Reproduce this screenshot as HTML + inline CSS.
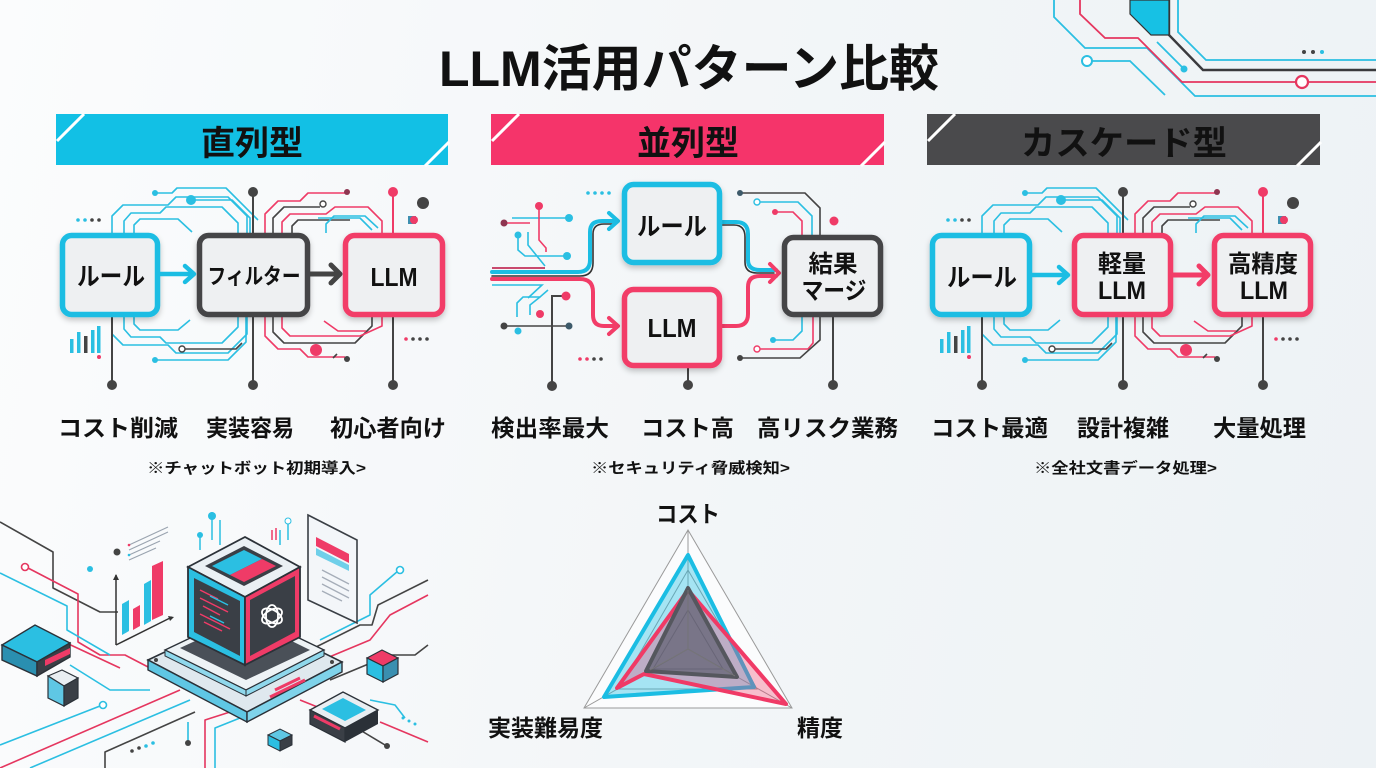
<!DOCTYPE html>
<html><head><meta charset="utf-8">
<style>
html,body{margin:0;padding:0;}
body{width:1376px;height:768px;overflow:hidden;background:linear-gradient(100deg,#fbfcfd 0%,#f3f6f8 50%,#edf2f5 100%);}
svg{display:block;}
text{font-family:"Liberation Sans","Noto Sans CJK JP",sans-serif;font-weight:bold;fill:#111;}
</style></head>
<body>
<svg width="1376" height="768" viewBox="0 0 1376 768" xmlns="http://www.w3.org/2000/svg">
<defs>
<filter id="sh" x="-20%" y="-20%" width="140%" height="150%">
<feDropShadow dx="0" dy="3" stdDeviation="3" flood-color="#000" flood-opacity="0.22"/>
</filter>
<g id="deco" fill="none" stroke-width="1.6" stroke-linejoin="round">
 <!-- cyan top -->
 <path d="M112 233 V216 L123 205 H168 L176 197 H228 L247 216 V233" stroke="#2bbfe2"/>
 <path d="M124 233 V221 L131 213 H160 L166 207 H222 L238 223 V233" stroke="#2bbfe2"/>
 <path d="M134 233 V225 L140 219 H178 L192 232" stroke="#2bbfe2"/>
 <path d="M155 193 H172 L177 188 H226 L258 220" stroke="#2bbfe2"/>
 <path d="M191 200 H232 L250 218 V233" stroke="#2bbfe2"/>
 <circle cx="155" cy="193" r="3" fill="#2bbfe2" stroke="none"/>
 <circle cx="191" cy="200" r="5" fill="#2bbfe2" stroke="none"/>
 <!-- cyan bottom -->
 <path d="M112 317 V334 L123 345 H168 L176 353 H228 L247 334 V317" stroke="#2bbfe2"/>
 <path d="M124 317 V329 L131 337 H160 L166 343 H222 L238 327 V317" stroke="#2bbfe2"/>
 <path d="M134 317 V324 L140 330 H178 L190 320" stroke="#2bbfe2"/>
 <path d="M157 360 H228 L246 342 V317" stroke="#2bbfe2"/>
 <circle cx="155" cy="360" r="3" fill="#2bbfe2" stroke="none"/>
 <path d="M185 349 H236 L242 343" stroke="#444"/>
 <circle cx="182" cy="349" r="3" fill="#fff" stroke="#444" stroke-width="1.4"/>
 <!-- pink/dark top -->
 <path d="M265 233 V214 L278 201 H300 L308 193 H345" stroke="#ef3b67"/>
 <circle cx="347" cy="192" r="3" fill="#8e3550" stroke="none"/>
 <path d="M273 233 V218 L284 207 H320" stroke="#444"/>
 <circle cx="323" cy="204" r="3" fill="#fff" stroke="#444" stroke-width="1.4"/>
 <path d="M282 233 V222 L290 214 H326 L335 207 H368 L382 221 V233" stroke="#ef3b67"/>
 <path d="M292 233 V226 L298 220 H350" stroke="#444"/>
 <path d="M318 218 H360 L372 230" stroke="#2bbfe2"/>
 <path d="M326 233 V224 L334 216 H365 L378 228" stroke="#2bbfe2"/>
 <!-- pink/dark bottom -->
 <path d="M265 317 V336 L278 349 H300 L308 357 H345" stroke="#ef3b67"/>
 <circle cx="347" cy="359" r="3" fill="#444" stroke="none"/>
 <path d="M273 317 V332 L284 343 H355 L372 326 V317" stroke="#444"/>
 <path d="M282 317 V328 L290 336 H360 L382 326 V317" stroke="#ef3b67"/>
 <path d="M324 321 L338 331 H366" stroke="#ef3b67"/>
 <circle cx="316" cy="350" r="6" fill="#ef3b67" stroke="none"/>
 <path d="M333 358 L337 354" stroke="#444"/>
 <!-- verticals -->
 <path d="M112 317 V385" stroke="#444" stroke-width="2"/>
 <circle cx="112" cy="385" r="5" fill="#444" stroke="none"/>
 <path d="M253 192 V233 M253 317 V385" stroke="#444" stroke-width="2"/>
 <circle cx="253" cy="192" r="5" fill="#444" stroke="none"/>
 <circle cx="253" cy="385" r="5" fill="#444" stroke="none"/>
 <path d="M393 192 V233" stroke="#ef3b67" stroke-width="2"/>
 <circle cx="393" cy="192" r="5" fill="#ef3b67" stroke="none"/>
 <path d="M393 317 V385" stroke="#444" stroke-width="2"/>
 <circle cx="393" cy="385" r="5" fill="#444" stroke="none"/>
 <!-- misc -->
 <circle cx="78" cy="220" r="1.8" fill="#2bbfe2" stroke="none"/>
 <circle cx="85" cy="220" r="1.8" fill="#2bbfe2" stroke="none"/>
 <circle cx="92" cy="220" r="1.8" fill="#444" stroke="none"/>
 <circle cx="99" cy="220" r="1.8" fill="#444" stroke="none"/>
 <rect x="70" y="339" width="3.5" height="14" fill="#2bbfe2" stroke="none"/>
 <rect x="77" y="332" width="3.5" height="21" fill="#2bbfe2" stroke="none"/>
 <rect x="84" y="336" width="3.5" height="17" fill="#444" stroke="none"/>
 <rect x="91" y="330" width="3.5" height="23" fill="#2bbfe2" stroke="none"/>
 <rect x="97" y="326" width="3.5" height="27" fill="#2bbfe2" stroke="none"/>
 <circle cx="99" cy="357" r="2" fill="#ef3b67" stroke="none"/>
 <circle cx="423" cy="203" r="6" fill="#444" stroke="none"/>
 <rect x="408" y="216" width="8" height="8" fill="#3d8fb0" stroke="none"/>
 <circle cx="414" cy="220" r="4" fill="#ef3b67" stroke="none"/>
 <circle cx="406" cy="339" r="1.8" fill="#ef3b67" stroke="none"/>
 <circle cx="413" cy="339" r="1.8" fill="#444" stroke="none"/>
 <circle cx="420" cy="339" r="1.8" fill="#444" stroke="none"/>
 <circle cx="427" cy="339" r="1.8" fill="#444" stroke="none"/>
</g>
</defs>

<!-- TITLE -->
<text x="689" y="86" font-size="50" text-anchor="middle" textLength="500" lengthAdjust="spacingAndGlyphs">LLM活用パターン比較</text>

<!-- top-right decoration -->
<g fill="none" stroke-width="1.8">
 <path d="M1054 0 V17 L1085 48 H1147 L1195 96 H1376" stroke="#2bbfe2"/>
 <path d="M1080 0 V14 L1105 38 H1138 L1182 82 H1296 M1308 82 H1376" stroke="#e5365f"/>
 <circle cx="1302" cy="82" r="6" stroke="#e5365f" stroke-width="2.2" fill="#fff"/>
 <path d="M1178 0 V32 L1206 60 H1376" stroke="#2bbfe2"/>
 <path d="M1169 0 V35 L1203 70 H1376" stroke="#3a3a3d" stroke-width="2.4"/>
 <path d="M1157 42 L1184 69" stroke="#2bbfe2"/>
 <circle cx="1184" cy="69" r="3.5" fill="#2bbfe2" stroke="none"/>
 <circle cx="1087" cy="61" r="5" stroke="#2bbfe2" stroke-width="2" fill="#fff"/>
 <path d="M1092 61 H1130 L1165 95" stroke="#2bbfe2"/>
</g>
<polygon points="1130,0 1169,0 1169,35 1151,35 1130,14" fill="#17c1e4" stroke="#333" stroke-width="1.2"/>
<circle cx="1304" cy="52" r="2" fill="#444"/><circle cx="1313" cy="52" r="2" fill="#444"/><circle cx="1322" cy="52" r="2" fill="#2bbfe2"/>

<!-- BANNERS -->
<rect x="56" y="114" width="392" height="51" fill="#12c0e5"/>
<path d="M57 141 L84 114 M425 166 L449 142" stroke="#fff" stroke-width="3"/>
<text x="252" y="155" font-size="34" text-anchor="middle">直列型</text>

<rect x="491" y="114" width="393" height="51" fill="#f5346a"/>
<path d="M492 141 L519 114 M861 166 L885 142" stroke="#fff" stroke-width="3"/>
<text x="688" y="155" font-size="34" text-anchor="middle">並列型</text>

<rect x="927" y="114" width="393" height="51" fill="#4a4a4c"/>
<path d="M928 141 L955 114 M1297 166 L1321 142" stroke="#fff" stroke-width="3"/>
<text x="1124" y="155" font-size="34" text-anchor="middle" textLength="206" lengthAdjust="spacingAndGlyphs">カスケード型</text>

<!-- SECTION 1 -->
<use href="#deco"/>
<g filter="url(#sh)">
 <rect x="62.5" y="235.5" width="95" height="79" rx="9" fill="#eef0f2" stroke="#1bbde3" stroke-width="5.5"/>
 <rect x="199.5" y="235.5" width="108" height="79" rx="9" fill="#eef0f2" stroke="#444447" stroke-width="5.5"/>
 <rect x="345.5" y="235.5" width="97" height="79" rx="9" fill="#eef0f2" stroke="#f23d68" stroke-width="5.5"/>
</g>
<path d="M160 274 H192" stroke="#1bbde3" stroke-width="4.5"/>
<path d="M185 266 L194 274 L185 282" fill="none" stroke="#1bbde3" stroke-width="4.5" stroke-linecap="round" stroke-linejoin="round"/>
<path d="M310 274 H338" stroke="#444" stroke-width="5"/>
<path d="M331 265 L340 274 L331 283" fill="none" stroke="#444" stroke-width="5" stroke-linecap="round" stroke-linejoin="round"/>
<text x="111" y="285" font-size="25" text-anchor="middle" textLength="68" lengthAdjust="spacingAndGlyphs">ルール</text>
<text x="254" y="284" font-size="22" text-anchor="middle" textLength="93" lengthAdjust="spacingAndGlyphs">フィルター</text>
<text x="394" y="286" font-size="26" text-anchor="middle" textLength="47" lengthAdjust="spacingAndGlyphs">LLM</text>

<!-- SECTION 3 -->
<use href="#deco" transform="translate(870,0)"/>
<g filter="url(#sh)">
 <rect x="932.5" y="235.5" width="97" height="79" rx="9" fill="#eef0f2" stroke="#1bbde3" stroke-width="5.5"/>
 <rect x="1074.5" y="235.5" width="96" height="79" rx="9" fill="#eef0f2" stroke="#f23d68" stroke-width="5.5"/>
 <rect x="1214.5" y="235.5" width="96" height="79" rx="9" fill="#eef0f2" stroke="#f23d68" stroke-width="5.5"/>
</g>
<path d="M1032 275 H1066" stroke="#1bbde3" stroke-width="4.5"/>
<path d="M1059 267 L1068 275 L1059 283" fill="none" stroke="#1bbde3" stroke-width="4.5" stroke-linecap="round" stroke-linejoin="round"/>
<path d="M1173 275 H1206" stroke="#f23d68" stroke-width="5"/>
<path d="M1199 266 L1208 275 L1199 284" fill="none" stroke="#f23d68" stroke-width="5" stroke-linecap="round" stroke-linejoin="round"/>
<text x="982" y="286" font-size="25" text-anchor="middle" textLength="70" lengthAdjust="spacingAndGlyphs">ルール</text>
<text x="1122" y="272" font-size="24" text-anchor="middle" textLength="48" lengthAdjust="spacingAndGlyphs">軽量</text>
<text x="1122" y="299" font-size="25" text-anchor="middle" textLength="48" lengthAdjust="spacingAndGlyphs">LLM</text>
<text x="1263" y="272" font-size="24" text-anchor="middle" textLength="70" lengthAdjust="spacingAndGlyphs">高精度</text>
<text x="1264" y="299" font-size="25" text-anchor="middle" textLength="48" lengthAdjust="spacingAndGlyphs">LLM</text>

<!-- SECTION 2 -->
<g fill="none" stroke-width="1.6">
 <path d="M492 268 H545" stroke="#c94a6e" stroke-width="2"/>
 <path d="M512 218 H566" stroke="#2bbfe2"/>
 <circle cx="569" cy="218" r="4" fill="#2bbfe2" stroke="none"/>
 <path d="M504 223 H530" stroke="#ef3b67"/>
 <circle cx="504" cy="223" r="3.5" fill="#8e3550" stroke="none"/>
 <path d="M539 206 V240 L546 248 V252" stroke="#ef3b67"/>
 <circle cx="539" cy="206" r="4" fill="#ef3b67" stroke="none"/>
 <path d="M518 235 V250 L525 256 H565" stroke="#2bbfe2"/>
 <circle cx="518" cy="235" r="3.5" fill="#2bbfe2" stroke="none"/>
 <circle cx="567" cy="256" r="4" fill="#2bbfe2" stroke="none"/>
 <path d="M528 232 V245 L545 266" stroke="#2bbfe2"/>
 <path d="M492 285 H542 L528 298" stroke="#2bbfe2"/>
 <path d="M517 317 V303 L523 297 H540 L548 290" stroke="#2bbfe2"/>
 <path d="M530 315 V305 L540 297" stroke="#2bbfe2"/>
 <circle cx="540" cy="314" r="4" fill="#ef3b67" stroke="none"/>
 <path d="M552 387 V296 H563" stroke="#444" stroke-width="2"/>
 <circle cx="566" cy="296" r="4.5" fill="#ef3b67" stroke="none"/>
 <circle cx="552" cy="386" r="5" fill="#444" stroke="none"/>
 <path d="M504 326 H569" stroke="#444"/>
 <circle cx="504" cy="326" r="3.5" fill="#444" stroke="none"/>
 <circle cx="569" cy="326" r="3.5" fill="#3d5a6a" stroke="none"/>
 <circle cx="518" cy="331" r="3.5" fill="#2bbfe2" stroke="none"/>
 <!-- right of merge -->
 <path d="M740 193 H805 L820 208 V235" stroke="#444"/>
 <circle cx="740" cy="193" r="3" fill="#3d5a6a" stroke="none"/>
 <path d="M760 202 H798 L812 216 V235" stroke="#2bbfe2"/>
 <circle cx="757" cy="202" r="3" fill="#fff" stroke="#2bbfe2" stroke-width="1.4"/>
 <path d="M775 212 H793 L802 221 V235" stroke="#ef3b67"/>
 <circle cx="775" cy="212" r="3" fill="#ef3b67" stroke="none"/>
 <circle cx="834" cy="221" r="4.5" fill="#ef3b67" stroke="none"/>
 <path d="M773 340 H793 L802 331 V317" stroke="#2bbfe2"/>
 <circle cx="773" cy="340" r="3" fill="#2bbfe2" stroke="none"/>
 <path d="M760 349 H808 L813 343 V317" stroke="#ef3b67"/>
 <circle cx="757" cy="349" r="3" fill="#fff" stroke="#ef3b67" stroke-width="1.4"/>
 <path d="M740 358 H800 L820 340 V317" stroke="#444"/>
 <circle cx="740" cy="358" r="3" fill="#444" stroke="none"/>
 <path d="M833 317 V385" stroke="#444" stroke-width="2"/>
 <path d="M688 368 V385" stroke="#444" stroke-width="2"/>
</g>
<circle cx="833" cy="385" r="5" fill="#444"/>
<circle cx="688" cy="385" r="5" fill="#444"/>
<circle cx="588" cy="193" r="1.8" fill="#2bbfe2"/><circle cx="595" cy="193" r="1.8" fill="#2bbfe2"/><circle cx="602" cy="193" r="1.8" fill="#2bbfe2"/><circle cx="609" cy="193" r="1.8" fill="#2bbfe2"/>
<circle cx="580" cy="359" r="1.8" fill="#ef3b67"/><circle cx="587" cy="359" r="1.8" fill="#ef3b67"/><circle cx="594" cy="359" r="1.8" fill="#444"/><circle cx="601" cy="359" r="1.8" fill="#444"/>
<!-- main flows -->
<g fill="none" stroke-linecap="round" stroke-linejoin="round">
 <path d="M492 272 H578 Q590 272 590 260 V232 Q590 221 602 221 H616" stroke="#1bbde3" stroke-width="4"/>
 <path d="M492 276 H580 Q593 276 593 263 V234 Q593 224 604 224 H614" stroke="#333" stroke-width="1.6"/>
 <path d="M492 279 H580 Q593 279 593 292 V315 Q593 326 604 326 H616" stroke="#f23d68" stroke-width="4"/>
 <path d="M609 213 L618 221 L609 229" stroke="#1bbde3" stroke-width="4"/>
 <path d="M609 318 L618 326 L609 334" stroke="#f23d68" stroke-width="4"/>
 <path d="M722 222 H736 Q748 222 748 234 V260 Q748 270 760 270 H776" stroke="#1bbde3" stroke-width="4"/>
 <path d="M722 225 H734 Q745 225 745 237 V262 Q745 273 757 273 H774" stroke="#333" stroke-width="1.6"/>
 <path d="M722 326 H736 Q748 326 748 314 V287 Q748 276 760 276 H776" stroke="#f23d68" stroke-width="4"/>
 <path d="M770 264 L779 273 L770 282" stroke="#f23d68" stroke-width="4"/>
</g>
<g filter="url(#sh)">
 <rect x="624.5" y="184.5" width="95" height="78" rx="9" fill="#eef0f2" stroke="#1bbde3" stroke-width="5.5"/>
 <rect x="624.5" y="289.5" width="95" height="76" rx="9" fill="#eef0f2" stroke="#f23d68" stroke-width="5.5"/>
 <rect x="784.5" y="237.5" width="96" height="77" rx="9" fill="#eef0f2" stroke="#444447" stroke-width="5.5"/>
</g>
<text x="672" y="235" font-size="25" text-anchor="middle" textLength="70" lengthAdjust="spacingAndGlyphs">ルール</text>
<text x="672" y="337" font-size="26" text-anchor="middle" textLength="49" lengthAdjust="spacingAndGlyphs">LLM</text>
<text x="833" y="272" font-size="24" text-anchor="middle" textLength="49" lengthAdjust="spacingAndGlyphs">結果</text>
<text x="834" y="299" font-size="24" text-anchor="middle" textLength="65" lengthAdjust="spacingAndGlyphs">マージ</text>

<!-- LABELS -->
<g font-size="23">
<text x="58" y="436" textLength="120" lengthAdjust="spacingAndGlyphs">コスト削減</text>
<text x="206" y="436" textLength="88" lengthAdjust="spacingAndGlyphs">実装容易</text>
<text x="330" y="436" textLength="116" lengthAdjust="spacingAndGlyphs">初心者向け</text>
<text x="491" y="436" textLength="118" lengthAdjust="spacingAndGlyphs">検出率最大</text>
<text x="641" y="436" textLength="93" lengthAdjust="spacingAndGlyphs">コスト高</text>
<text x="757" y="436" textLength="141" lengthAdjust="spacingAndGlyphs">高リスク業務</text>
<text x="931" y="436" textLength="117" lengthAdjust="spacingAndGlyphs">コスト最適</text>
<text x="1077" y="436" textLength="92" lengthAdjust="spacingAndGlyphs">設計複雑</text>
<text x="1213" y="436" textLength="93" lengthAdjust="spacingAndGlyphs">大量処理</text>
</g>
<g font-size="15">
<text x="147" y="473" textLength="219" lengthAdjust="spacingAndGlyphs">※チャットボット初期導入&gt;</text>
<text x="591" y="473" textLength="199" lengthAdjust="spacingAndGlyphs">※セキュリティ脅威検知&gt;</text>
<text x="1034" y="473" textLength="183" lengthAdjust="spacingAndGlyphs">※全社文書データ処理&gt;</text>
</g>

<!-- RADAR -->
<g fill="none" stroke="#9a9a9a" stroke-width="1">
 <polygon points="688,530 584,708 792,708" fill="#fbfcfd"/>
 <polygon points="688,570 619,689 757,689"/>
 <polygon points="688,610 653,669 723,669"/>
 <path d="M688 649 L688 530 M688 649 L584 708 M688 649 L792 708"/>
</g>
<polygon points="688,555 604,697 754,687" fill="rgba(27,189,227,0.38)" stroke="#1bbde3" stroke-width="4" stroke-linejoin="round"/>
<polygon points="688,590 786,704 644,674 617,688" fill="rgba(240,58,102,0.32)" stroke="#f03a66" stroke-width="4" stroke-linejoin="round"/>
<polygon points="688,588 737,677 646,671" fill="rgba(75,80,95,0.6)" stroke="#55575e" stroke-width="4" stroke-linejoin="round"/>
<g fill="none" stroke="#777" stroke-width="0.8"><path d="M688 649 L688 590 M688 649 L650 670 M688 649 L735 676"/></g>
<text x="688" y="522" font-size="23" text-anchor="middle" textLength="64" lengthAdjust="spacingAndGlyphs">コスト</text>
<text x="488" y="736" font-size="23" textLength="115" lengthAdjust="spacingAndGlyphs">実装難易度</text>
<text x="797" y="736" font-size="23" textLength="46" lengthAdjust="spacingAndGlyphs">精度</text>

<!-- BOTTOM-LEFT ILLUSTRATION -->
<g fill="none" stroke-width="1.6" stroke-linejoin="round">
 <path d="M0 522 L53 552 V588 L100 612 H118" stroke="#444"/>
 <path d="M28 568 L78 594 V642 L100 655 H125 L150 668" stroke="#e5365f"/>
 <circle cx="25" cy="567" r="3.5" fill="#fff" stroke="#e5365f"/>
 <path d="M0 573 L67 606 V630 L110 655" stroke="#2bbfe2"/>
 <path d="M0 745 L100 706" stroke="#2bbfe2"/>
 <circle cx="103" cy="705" r="3.5" fill="#fff" stroke="#2bbfe2"/>
 <path d="M0 768 L180 690" stroke="#e5365f"/>
 <path d="M30 768 L190 700" stroke="#2bbfe2"/>
 <path d="M70 665 L110 690 H150" stroke="#2bbfe2"/>
 <path d="M60 640 L120 668" stroke="#e5365f"/>
 <path d="M105 768 V752 L195 712" stroke="#444"/>
 <path d="M205 768 V720 L230 712" stroke="#e5365f"/>
 <path d="M215 768 V728 L240 718" stroke="#2bbfe2"/>
 <path d="M188 742 V722" stroke="#2bbfe2"/>
 <circle cx="188" cy="743" r="3" fill="#444" stroke="none"/>
 <path d="M300 655 L360 625 H372 L378 605 L428 580" stroke="#444"/>
 <path d="M310 665 L370 640 L390 615 L428 595" stroke="#e5365f"/>
 <path d="M320 640 L370 615 V595 L398 571" stroke="#2bbfe2"/>
 <circle cx="400" cy="570" r="3.5" fill="#fff" stroke="#2bbfe2"/>
 <path d="M330 680 L390 655 H415 L428 645" stroke="#444"/>
 <path d="M300 700 L330 712" stroke="#e5365f"/>
 <path d="M380 722 L428 742" stroke="#e5365f"/>
 <path d="M360 730 L385 745" stroke="#444"/>
 <circle cx="387" cy="746" r="3" fill="#444" stroke="none"/>
 <path d="M370 700 L395 705 L405 718" stroke="#2bbfe2"/>
</g>
<!-- chart -->
<g>
 <path d="M116 645 V575 M116 645 L172 617" stroke="#333" stroke-width="1.5" fill="none"/>
 <path d="M113 580 L116 574 L119 580 Z M168 616 L174 617 L170 621 Z" fill="#333"/>
 <polygon points="122,635 129,631 129,600 122,604" fill="#2bbfe2"/>
 <polygon points="133,630 140,626 140,605 133,609" fill="#ef3b67"/>
 <polygon points="144,625 151,621 151,580 144,584" fill="#2bbfe2"/>
 <polygon points="152,620 163,615 163,561 152,566" fill="#ef3b67"/>
 <path d="M129 545 L168 527 M129 550 L168 532 M129 555 L160 541 M129 560 L156 548" stroke="#9aa4b0" stroke-width="1.2"/>
 <circle cx="117" cy="552" r="3.5" fill="#444"/>
 <circle cx="129" cy="545" r="1.3" fill="#ef3b67"/><circle cx="129" cy="555" r="1.3" fill="#2bbfe2"/>
 <circle cx="90" cy="569" r="3" fill="#2bbfe2"/>
 <path d="M212 512 V540 M200 535 V550 M220 520 V545 M288 520 V540 M280 530 V545" stroke="#2bbfe2" stroke-width="1.5"/>
 <circle cx="212" cy="516" r="4" fill="#2bbfe2"/>
 <circle cx="200" cy="535" r="3" fill="#2bbfe2"/>
 <circle cx="288" cy="521" r="3" fill="#fff" stroke="#2bbfe2"/>
 <path d="M272 530 V540 M276 528 V540" stroke="#ef3b67" stroke-width="1.5"/>
</g>
<!-- doc panel -->
<polygon points="308,515 357,540 357,623 308,600" fill="#f3f6f9" stroke="#3a3f45" stroke-width="1.6"/>
<polygon points="316,537 349,554 349,563 316,546" fill="#ef3b67"/>
<polygon points="316,548 349,565 349,571 316,555" fill="#6fcfe9"/>
<path d="M322 570 L349 584 M322 577 L349 591 M322 584 L349 598 M322 591 L342 601" stroke="#a5adb8" stroke-width="1.3"/>
<!-- left box -->
<polygon points="2,645 35,625 70,643 37,662" fill="#2bbfe2" stroke="#2b3138" stroke-width="1.4"/>
<polygon points="2,645 37,662 37,676 2,660" fill="#2a8fb0" stroke="#2b3138" stroke-width="1.4"/>
<polygon points="37,662 70,643 70,657 37,676" fill="#3a3f46" stroke="#2b3138" stroke-width="1.4"/>
<polygon points="45,660 70,648 70,654 45,666" fill="#ef3b67"/>
<!-- small box -->
<polygon points="48,676 62,670 78,678 64,686" fill="#e9eef2" stroke="#2b3138" stroke-width="1.2"/>
<polygon points="48,676 64,686 64,706 48,698" fill="#5fc7e4" stroke="#2b3138" stroke-width="1.2"/>
<polygon points="64,686 78,678 78,698 64,706" fill="#3a3f46" stroke="#2b3138" stroke-width="1.2"/>
<!-- platform -->
<polygon points="148,660 245,614 342,662 247,712" fill="#dfe8ee" stroke="#2b3138" stroke-width="1.6"/>
<polygon points="148,660 247,712 247,722 148,670" fill="#5fc7e4" stroke="#2b3138" stroke-width="1.4"/>
<polygon points="247,712 342,662 342,672 247,722" fill="#7fd3ea" stroke="#2b3138" stroke-width="1.4"/>
<polygon points="165,650 245,612 324,650 246,690" fill="#eef3f6" stroke="#2b3138" stroke-width="1.4"/>
<polygon points="165,650 246,690 246,696 165,656" fill="#8fd8ec" stroke="#2b3138" stroke-width="1"/>
<polygon points="246,690 324,650 324,656 246,696" fill="#8fd8ec" stroke="#2b3138" stroke-width="1"/>
<polygon points="180,648 245,618 310,650 246,680" fill="#4a5058"/>
<path d="M275 690 L300 678 M270 697 L305 680" stroke="#ef3b67" stroke-width="3"/>
<circle cx="156" cy="660" r="2" fill="#444"/><circle cx="332" cy="662" r="2" fill="#444"/>
<!-- cube -->
<polygon points="188,567 245,537 300,567 245,597" fill="#eaf0f4" stroke="#2b3138" stroke-width="1.8"/>
<polygon points="205,566 244,546 283,566 244,586" fill="#3a3f46"/>
<polygon points="212,566 244,550 262,559 230,575" fill="#2bbfe2"/>
<polygon points="230,575 262,559 276,566 244,582" fill="#ef3b67"/>
<polygon points="188,567 245,597 245,665 188,637" fill="#2bbfe2" stroke="#2b3138" stroke-width="1.8"/>
<polygon points="194,578 240,601 240,656 194,632" fill="#3a3f46"/>
<path d="M200 590 L218 599 M200 598 L228 612 M203 606 L220 615 M200 614 L230 629 M204 622 L222 631" stroke="#ef3b67" stroke-width="1.5"/>
<path d="M210 596 L228 605 M210 616 L224 623" stroke="#2bbfe2" stroke-width="1.5"/>
<polygon points="245,597 300,567 300,637 245,665" fill="#ef3b67" stroke="#2b3138" stroke-width="1.8"/>
<polygon points="250,600 295,576 295,632 250,656" fill="#3a3f46"/>
<g fill="none" stroke="#fff" stroke-width="1.8">
 <ellipse cx="272" cy="616" rx="11" ry="6" transform="rotate(-30 272 616)"/>
 <ellipse cx="272" cy="616" rx="11" ry="6" transform="rotate(30 272 616)"/>
 <ellipse cx="272" cy="616" rx="11" ry="6" transform="rotate(90 272 616)"/>
</g>
<!-- right small cube -->
<polygon points="367,658 382,650 398,658 383,666" fill="#ef3b67" stroke="#2b3138" stroke-width="1.2"/>
<polygon points="367,658 383,666 383,682 367,674" fill="#2bbfe2" stroke="#2b3138" stroke-width="1.2"/>
<polygon points="383,666 398,658 398,674 383,682" fill="#3a8fb0" stroke="#2b3138" stroke-width="1.2"/>
<!-- bottom right box -->
<polygon points="310,710 343,692 378,710 345,728" fill="#e9eef2" stroke="#2b3138" stroke-width="1.4"/>
<polygon points="322,709 343,698 366,710 345,721" fill="#2bbfe2"/>
<polygon points="310,710 345,728 345,742 310,724" fill="#3a3f46" stroke="#2b3138" stroke-width="1.2"/>
<polygon points="345,728 378,710 378,724 345,742" fill="#2b3138"/>
<path d="M314 716 L340 729" stroke="#ef3b67" stroke-width="3"/>
<!-- tiny cube -->
<polygon points="268,735 280,729 292,735 280,741" fill="#5fc7e4" stroke="#2b3138" stroke-width="1"/>
<polygon points="268,735 280,741 280,751 268,745" fill="#2bbfe2" stroke="#2b3138" stroke-width="1"/>
<polygon points="280,741 292,735 292,745 280,751" fill="#3a3f46" stroke="#2b3138" stroke-width="1"/>
<circle cx="403" cy="718" r="1.5" fill="#2bbfe2"/><circle cx="409" cy="721" r="1.5" fill="#2bbfe2"/><circle cx="415" cy="724" r="1.5" fill="#2bbfe2"/>
<circle cx="132" cy="751" r="1.8" fill="#444"/><circle cx="139" cy="748" r="1.8" fill="#444"/><circle cx="146" cy="746" r="1.8" fill="#2bbfe2"/><circle cx="153" cy="743" r="1.8" fill="#2bbfe2"/>
</svg>
</body></html>
